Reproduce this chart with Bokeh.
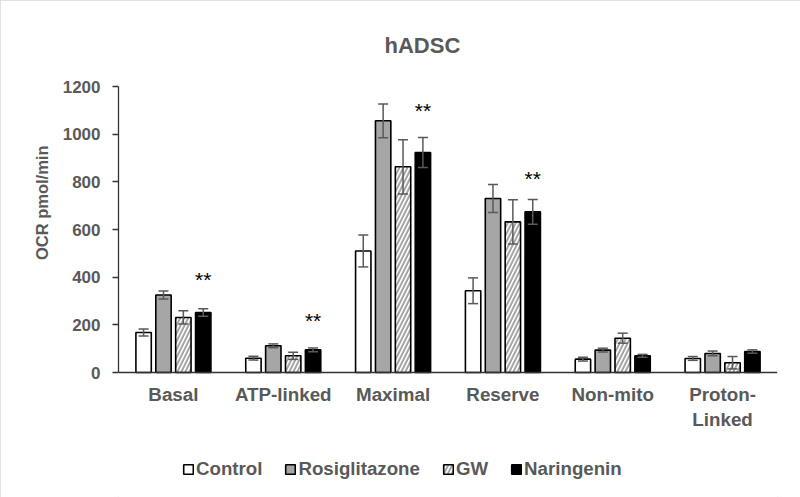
from bokeh.plotting import figure
from bokeh.models import (ColumnDataSource, Range1d, Whisker, Legend, LegendItem,
                          FixedTicker, TeeHead, LinearAxis, Title)
from bokeh.core.properties import value
from bokeh.embed import file_html
from bokeh.resources import INLINE

# ---- data ----
categories = ["Basal", "ATP-linked", "Maximal", "Reserve", "Non-mito", "Proton-\nLinked"]
series = ["Control", "Rosiglitazone", "GW", "Naringenin"]
control = [168, 60, 510, 343, 56, 59]
control_err = [15, 8, 67, 54, 8, 8]
rosiglitazone = [325, 112, 1056, 730, 94, 80]
rosiglitazone_err = [17, 8, 71, 59, 8, 10]
gw = [231, 70, 863, 632, 144, 41]
gw_err = [28, 15, 114, 93, 21, 26]
naringenin = [252, 95, 923, 674, 70, 88]
naringenin_err = [16, 8, 63, 52, 6, 7]
sig_index = [0, 1, 2, 3]          # categories marked with ** (Naringenin bar)
sig_y = [389, 217, 1098, 814]     # height of the ** marks
y_ticks = [0, 200, 400, 600, 800, 1000, 1200]

values = [control, rosiglitazone, gw, naringenin]
errors = [control_err, rosiglitazone_err, gw_err, naringenin_err]

FONT = "Liberation Sans"
TXT = "#595959"

W, H = 800, 497
TOP, LEFT, RIGHT, BOTTOM = 86, 118, 23, 0
AXIS_PX = 286                       # pixels from 0 to 1200 on the value axis
y_max = 1200
frame_h = H - TOP - BOTTOM
y_min = y_max - frame_h * y_max / AXIS_PX   # frame extends below 0 to hold labels/legend

p = figure(width=W, height=H, output_backend="svg", toolbar_location=None,
           x_axis_location=None,
           x_range=Range1d(-0.5, len(categories) - 0.5), y_range=Range1d(y_min, y_max),
           min_border_left=LEFT, min_border_right=RIGHT, min_border_top=TOP,
           min_border_bottom=BOTTOM)
p.outline_line_color = None
p.xgrid.grid_line_color = None
p.ygrid.grid_line_color = None
p.styles = {"outline": "1px solid #d9d9d9", "outline-offset": "-1px"}

p.title.text = "hADSC"
p.title.align = "left"
p.title.offset = 266
p.title.standoff = 58
p.title.text_font = FONT
p.title.text_font_size = "22px"
p.title.text_font_style = "bold"
p.title.text_color = TXT

# y axis
ya = p.yaxis[0]
ya.ticker = FixedTicker(ticks=y_ticks)
ya.bounds = (0, y_max)
ya.axis_line_color = "#333333"
ya.axis_line_width = 1.3
ya.major_tick_line_color = "#333333"
ya.major_tick_line_width = 1.3
ya.major_tick_out = 6
ya.major_tick_in = 0
ya.minor_tick_line_color = None
ya.major_label_standoff = 12
ya.major_label_text_font = FONT
ya.major_label_text_font_size = "17px"
ya.major_label_text_font_style = "bold"
ya.major_label_text_color = TXT

# y axis title (placed as a side title so it sits where the reference has it)
ytitle = Title(text="OCR pmol/min", align="right", offset=59, standoff=18,
               text_font=FONT, text_font_size="16.5px", text_font_style="bold",
               text_color=TXT)
p.add_layout(ytitle, "left")

# x axis, drawn at value 0
xa = LinearAxis(fixed_location=0)
xa.ticker = FixedTicker(ticks=list(range(len(categories))))
xa.major_label_overrides = {i: c for i, c in enumerate(categories)}
xa.axis_line_color = "#333333"
xa.axis_line_width = 1.3
xa.major_tick_line_color = None
xa.minor_tick_line_color = None
xa.major_label_standoff = 5
xa.major_label_text_font = FONT
xa.major_label_text_font_size = "18.8px"
xa.major_label_text_font_style = "bold"
xa.major_label_text_color = TXT
p.add_layout(xa, "below")

step = 0.181
bar_w = 0.14
offsets = [-1.5 * step, -0.5 * step, 0.5 * step, 1.5 * step]
styles = [
    dict(fill_color="white", line_color="black"),
    dict(fill_color="#a6a6a6", line_color="black"),
    dict(fill_color="white", line_color="black", hatch_pattern="/",
         hatch_color="#a6a6a6", hatch_weight=2, hatch_scale=8),
    dict(fill_color="black", line_color="black"),
]

renderers = []
for name, vals, errs, off, st in zip(series, values, errors, offsets, styles):
    xs = [i + off for i in range(len(categories))]
    src = ColumnDataSource(dict(x=xs, top=vals,
                                upper=[v + e for v, e in zip(vals, errs)],
                                lower=[v - e for v, e in zip(vals, errs)]))
    r = p.vbar(x="x", top="top", bottom=0, width=bar_w, source=src,
               line_width=1.6, **st)
    renderers.append(r)
    w = Whisker(source=src, base="x", upper="upper", lower="lower",
                dimension="height", line_color="#595959", line_width=1.5,
                upper_head=TeeHead(size=10, line_color="#595959", line_width=1.5),
                lower_head=TeeHead(size=10, line_color="#595959", line_width=1.5),
                level="overlay")
    p.add_layout(w)

sig_src = ColumnDataSource(dict(x=[i + offsets[3] for i in sig_index], y=sig_y))
p.text(x="x", y="y", text=value("**"), source=sig_src, text_align="center",
       text_baseline="middle", text_font=value(FONT), text_font_size="21px",
       text_color="black")

legend = Legend(items=[LegendItem(label=n, renderers=[r]) for n, r in zip(series, renderers)],
                orientation="horizontal", location=(64, 17), margin=0, padding=0,
                glyph_width=12, glyph_height=12, label_standoff=2, spacing=22,
                label_height=20, label_text_font=FONT, label_text_font_size="18.7px",
                label_text_font_style="bold", label_text_color=TXT,
                border_line_color=None, background_fill_alpha=0)
p.add_layout(legend, "center")

open("out.html", "w").write(file_html(p, INLINE))
